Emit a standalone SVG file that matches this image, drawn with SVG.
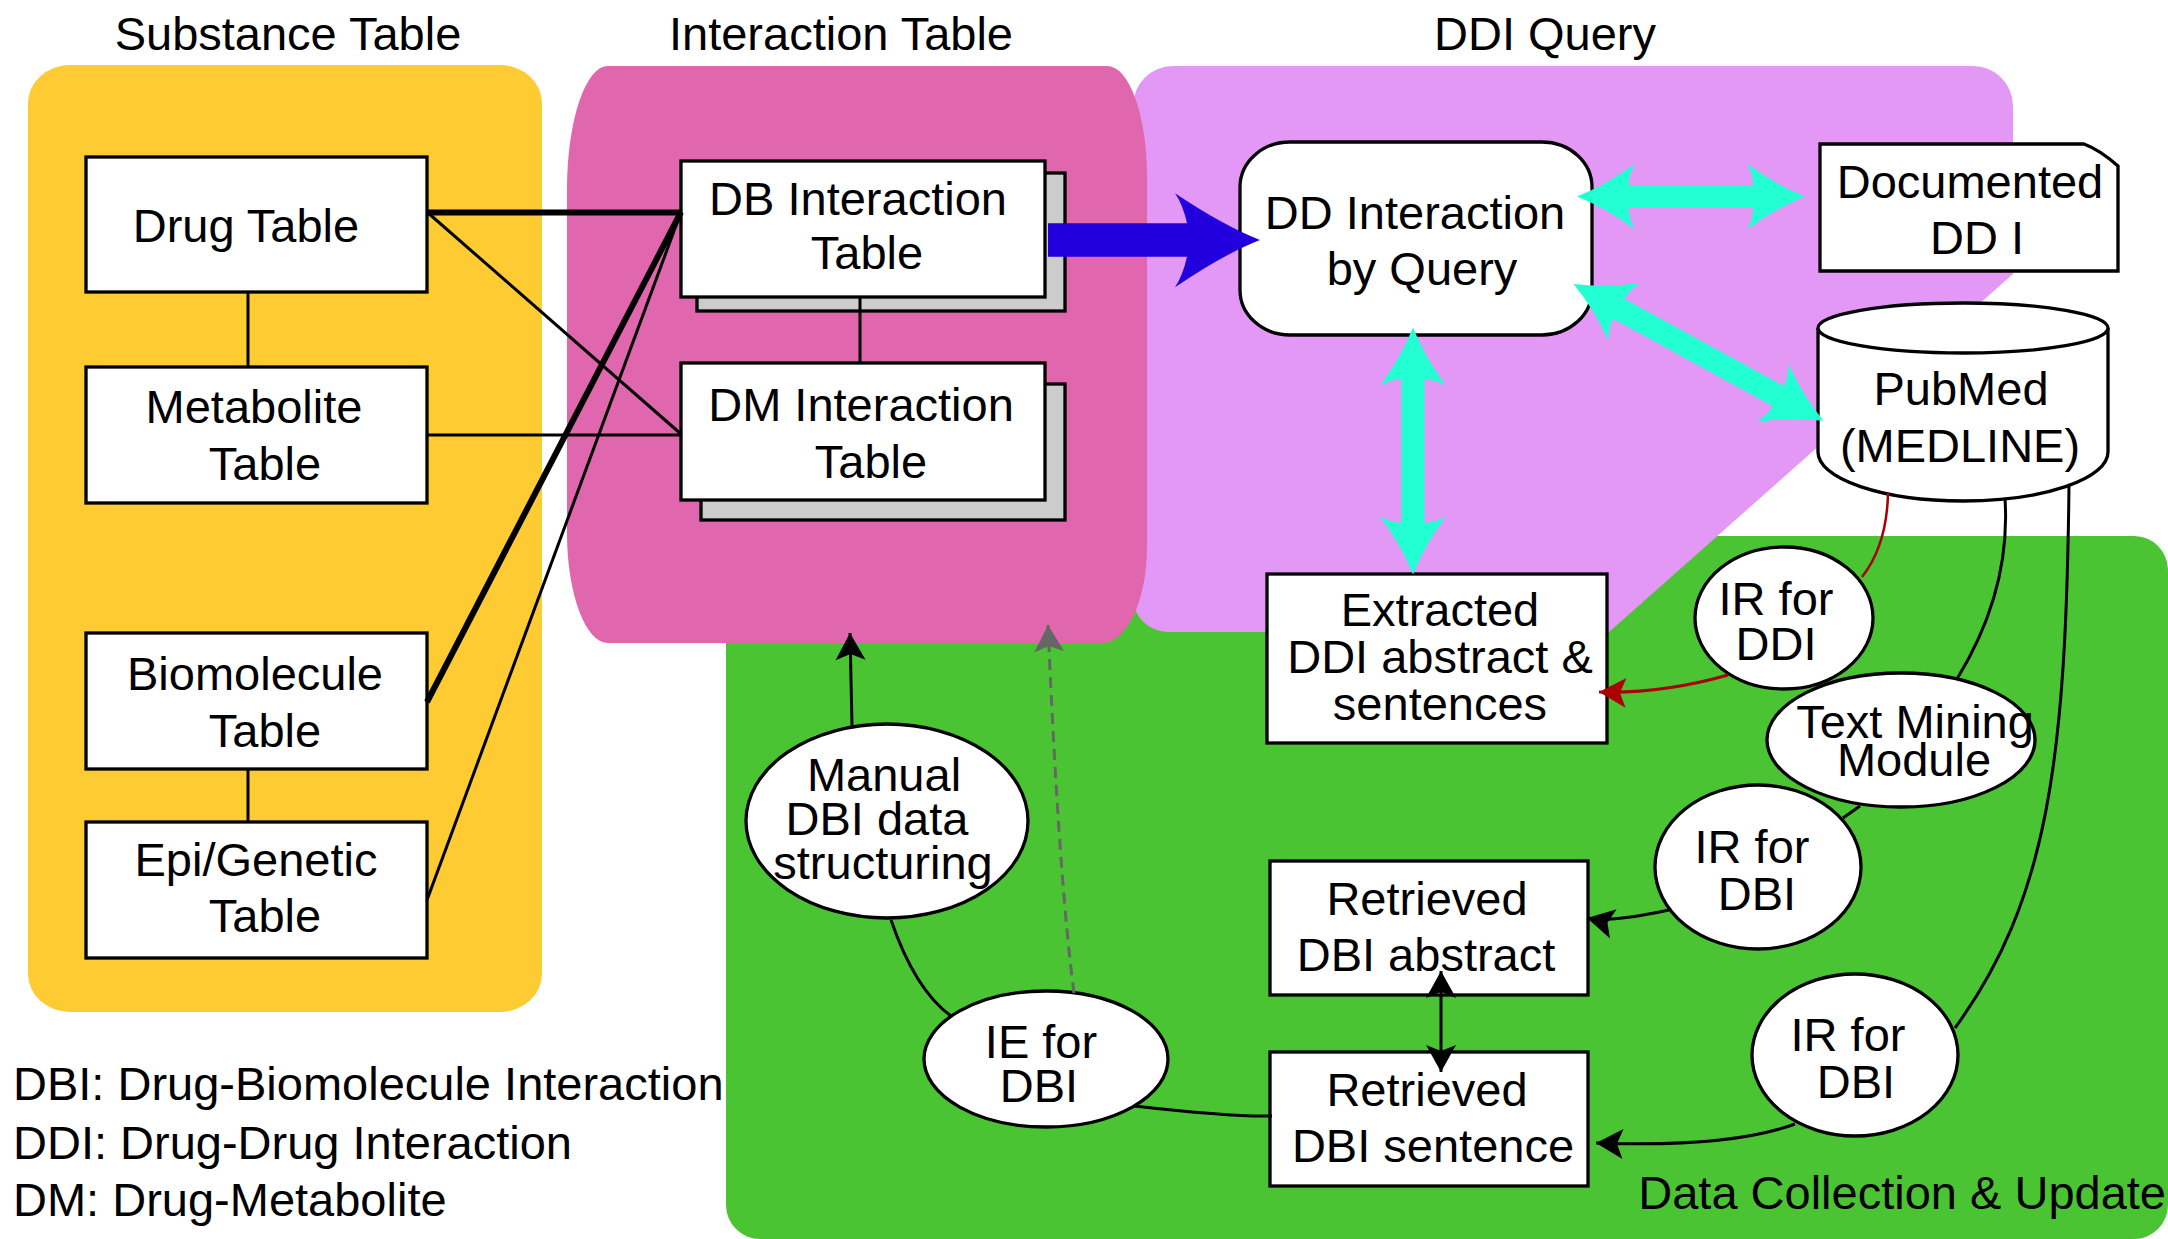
<svg xmlns="http://www.w3.org/2000/svg" width="2168" height="1239" viewBox="0 0 2168 1239">
<style>
text{font-family:"Liberation Sans",Arial,sans-serif;font-size:47px;fill:#000;text-anchor:middle}
.st{text-anchor:start}
.en{text-anchor:end}
.box{fill:#fff;stroke:#000;stroke-width:3.3}
.shadow{fill:#cccccc;stroke:#000;stroke-width:3.3}
.ln{fill:none;stroke:#000;stroke-width:3}
.thick{fill:none;stroke:#000;stroke-width:6}
.cy{fill:#22FFD2}
</style>
<defs>
<marker id="ah" markerUnits="userSpaceOnUse" viewBox="-28 -16 30 32" markerWidth="30" markerHeight="32" refX="0" refY="0" orient="auto-start-reverse"><path d="M0,0 L-27,-15 L-21,0 L-27,15 Z" fill="#000"/></marker>
<marker id="ahr" markerUnits="userSpaceOnUse" viewBox="-28 -16 30 32" markerWidth="30" markerHeight="32" refX="0" refY="0" orient="auto"><path d="M0,0 L-27,-15 L-21,0 L-27,15 Z" fill="#AA0000"/></marker>
<marker id="ahg" markerUnits="userSpaceOnUse" viewBox="-28 -16 30 32" markerWidth="30" markerHeight="32" refX="0" refY="0" orient="auto"><path d="M0,0 L-27,-15 L-21,0 L-27,15 Z" fill="#666"/></marker>
</defs>

<g id="panels">
<rect x="726" y="536" width="1442" height="703" rx="34" ry="34" fill="#4BC434"/>
<path d="M1173,66 L1973,66 A40,40 0 0 1 2013,106 L2013,274 L1609,632 L1168,632 A35,35 0 0 1 1133,597 L1133,106 A40,40 0 0 1 1173,66 Z" fill="#E498F6"/>
<rect x="28" y="65" width="514" height="947" rx="42" ry="38" fill="#FECB33"/>
<path d="M608,66 L1107,66 A40,110 0 0 1 1147,176 L1147,547 A45,96 0 0 1 1102,643 L608,643 A41,110 0 0 1 567,533 L567,189 A41,123 0 0 1 608,66 Z" fill="#E067AD"/>
</g>

<g id="titles">
<text x="288" y="50">Substance Table</text>
<text x="841" y="50">Interaction Table</text>
<text x="1545" y="50">DDI Query</text>
<text class="en" x="2166" y="1209">Data Collection &amp; Update</text>
<text class="st" x="13" y="1100">DBI: Drug-Biomolecule Interaction</text>
<text class="st" x="13" y="1159">DDI: Drug-Drug Interaction</text>
<text class="st" x="13" y="1216">DM: Drug-Metabolite</text>
</g>

<g id="nodes">
<g id="drug-table"><rect class="box" x="86" y="157" width="341" height="135"/><text x="246" y="242">Drug Table</text></g>
<g id="metabolite-table"><rect class="box" x="86" y="367" width="341" height="136"/><text x="254" y="423">Metabolite</text><text x="265" y="480">Table</text></g>
<g id="biomolecule-table"><rect class="box" x="86" y="633" width="341" height="136"/><text x="255" y="690">Biomolecule</text><text x="265" y="747">Table</text></g>
<g id="epigenetic-table"><rect class="box" x="86" y="822" width="341" height="136"/><text x="256" y="876">Epi/Genetic</text><text x="265" y="932">Table</text></g>
<g id="db-interaction"><rect class="shadow" x="697" y="173" width="368" height="138"/><rect class="box" x="681" y="161" width="364" height="136"/><text x="858" y="215">DB Interaction</text><text x="867" y="269">Table</text></g>
<g id="dm-interaction"><rect class="shadow" x="701" y="384" width="364" height="136"/><rect class="box" x="681" y="363" width="364" height="137"/><text x="861" y="421">DM Interaction</text><text x="871" y="478">Table</text></g>
<g id="dd-query"><rect class="box" x="1240" y="142" width="352" height="193" rx="50" ry="45"/><text x="1415" y="229">DD Interaction</text><text x="1422" y="285">by Query</text></g>
<g id="documented"><path class="box" d="M1820,144 L2084,144 Q2100,150 2118,166 L2118,271 L1820,271 Z"/><text x="1970" y="198">Documented</text><text x="1977" y="254">DD I</text></g>
<g id="pubmed"><path class="box" d="M1818,328 L1818,452 A145,49 0 0 0 2108,452 L2108,328"/><ellipse class="box" cx="1963" cy="328" rx="145" ry="25"/><text x="1961" y="405">PubMed</text><text x="1960" y="462">(MEDLINE)</text></g>
<g id="extracted"><rect class="box" x="1267" y="574" width="340" height="169"/><text x="1440" y="626">Extracted</text><text x="1440" y="673">DDI abstract &amp;</text><text x="1440" y="720">sentences</text></g>
<g id="ir-ddi"><ellipse class="box" cx="1784" cy="618" rx="89" ry="71"/><text x="1776" y="615">IR for</text><text x="1776" y="660">DDI</text></g>
<g id="text-mining"><ellipse class="box" cx="1901" cy="740" rx="134" ry="67"/><text x="1915" y="738">Text Mining</text><text x="1914" y="776">Module</text></g>
<g id="ir-dbi-1"><ellipse class="box" cx="1758" cy="867" rx="103" ry="82"/><text x="1752" y="863">IR for</text><text x="1757" y="910">DBI</text></g>
<g id="ir-dbi-2"><ellipse class="box" cx="1855" cy="1055" rx="103" ry="81"/><text x="1848" y="1051">IR for</text><text x="1856" y="1098">DBI</text></g>
<g id="retrieved-abstract"><rect class="box" x="1270" y="861" width="318" height="134"/><text x="1427" y="915">Retrieved</text><text x="1426" y="971">DBI abstract</text></g>
<g id="retrieved-sentence"><rect class="box" x="1270" y="1052" width="318" height="134"/><text x="1427" y="1106">Retrieved</text><text x="1433" y="1162">DBI sentence</text></g>
<g id="manual"><ellipse class="box" cx="887" cy="821" rx="141" ry="97"/><text x="884" y="791">Manual</text><text x="877" y="835">DBI data</text><text x="883" y="879">structuring</text></g>
<g id="ie-dbi"><ellipse class="box" cx="1046" cy="1059" rx="122" ry="68"/><text x="1041" y="1058">IE for</text><text x="1039" y="1102">DBI</text></g>
</g>

<g id="connectors">
<line class="ln" x1="248" y1="292" x2="248" y2="367"/>
<line class="ln" x1="248" y1="769" x2="248" y2="822"/>
<line class="ln" x1="860" y1="297" x2="860" y2="363"/>
<line class="thick" x1="427" y1="212.5" x2="681" y2="212.5"/>
<line class="ln" x1="427" y1="212" x2="681" y2="434"/>
<line class="ln" x1="427" y1="435" x2="681" y2="435"/>
<line class="thick" x1="427" y1="702" x2="681" y2="212"/>
<line class="ln" x1="427" y1="900" x2="681" y2="212"/>
<path d="M1048,223.3 L1187,223.3 Q1183,205 1175,193.3 Q1224,226 1260,240 Q1224,254 1175,287.3 Q1183,275 1187,256.7 L1048,256.7 Z" fill="#2200DD"/>
<path class="cy" transform="translate(1577,196.6)" d="M0,0 Q30,-12 58,-33 Q51,-20 52,-11.5 L176,-11.5 Q177,-20 170,-33 Q198,-12 228,0 Q198,12 170,33 Q177,20 176,11.5 L52,11.5 Q51,20 58,33 Q30,12 0,0 Z"/>
<path class="cy" transform="translate(1413,327.5) rotate(90)" d="M0,0 Q30,-12 58,-33 Q51,-20 52,-11.5 L195,-11.5 Q196,-20 189,-33 Q217,-12 247,0 Q217,12 189,33 Q196,20 195,11.5 L52,11.5 Q51,20 58,33 Q30,12 0,0 Z"/>
<path class="cy" transform="translate(1573.5,284) rotate(28.7)" d="M0,0 Q30,-12 58,-33 Q51,-20 52,-11.5 L233,-11.5 Q234,-20 227,-33 Q255,-12 285,0 Q255,12 227,33 Q234,20 233,11.5 L52,11.5 Q51,20 58,33 Q30,12 0,0 Z"/>
<path d="M1888,493 Q1887,545 1862,577" fill="none" stroke="#AA0000" stroke-width="2.5"/>
<path d="M1728,675 Q1661,694 1599,692" fill="none" stroke="#AA0000" stroke-width="3" marker-end="url(#ahr)"/>
<path class="ln" d="M2005,499 Q2011,591 1957,679"/>
<path class="ln" d="M2069,485 C2066,760 2048,900 1955,1028"/>
<line class="ln" x1="1860" y1="806" x2="1843" y2="818"/>
<path class="ln" d="M1669,910 Q1609,923 1587,918" marker-end="url(#ah)"/>
<path class="ln" d="M1795,1124 Q1730,1148 1596,1143" marker-end="url(#ah)"/>
<line class="ln" x1="1441" y1="971" x2="1441" y2="1072" marker-start="url(#ah)" marker-end="url(#ah)"/>
<path class="ln" d="M852,726 Q851,680 850,633" marker-end="url(#ah)"/>
<path d="M1074,993 Q1059,880 1048,625" fill="none" stroke="#666" stroke-width="3" stroke-dasharray="11 7" marker-end="url(#ahg)"/>
<path class="ln" d="M891,920 Q915,990 951,1016"/>
<path class="ln" d="M1134,1106 Q1232,1117 1272,1116"/>
</g>
</svg>
